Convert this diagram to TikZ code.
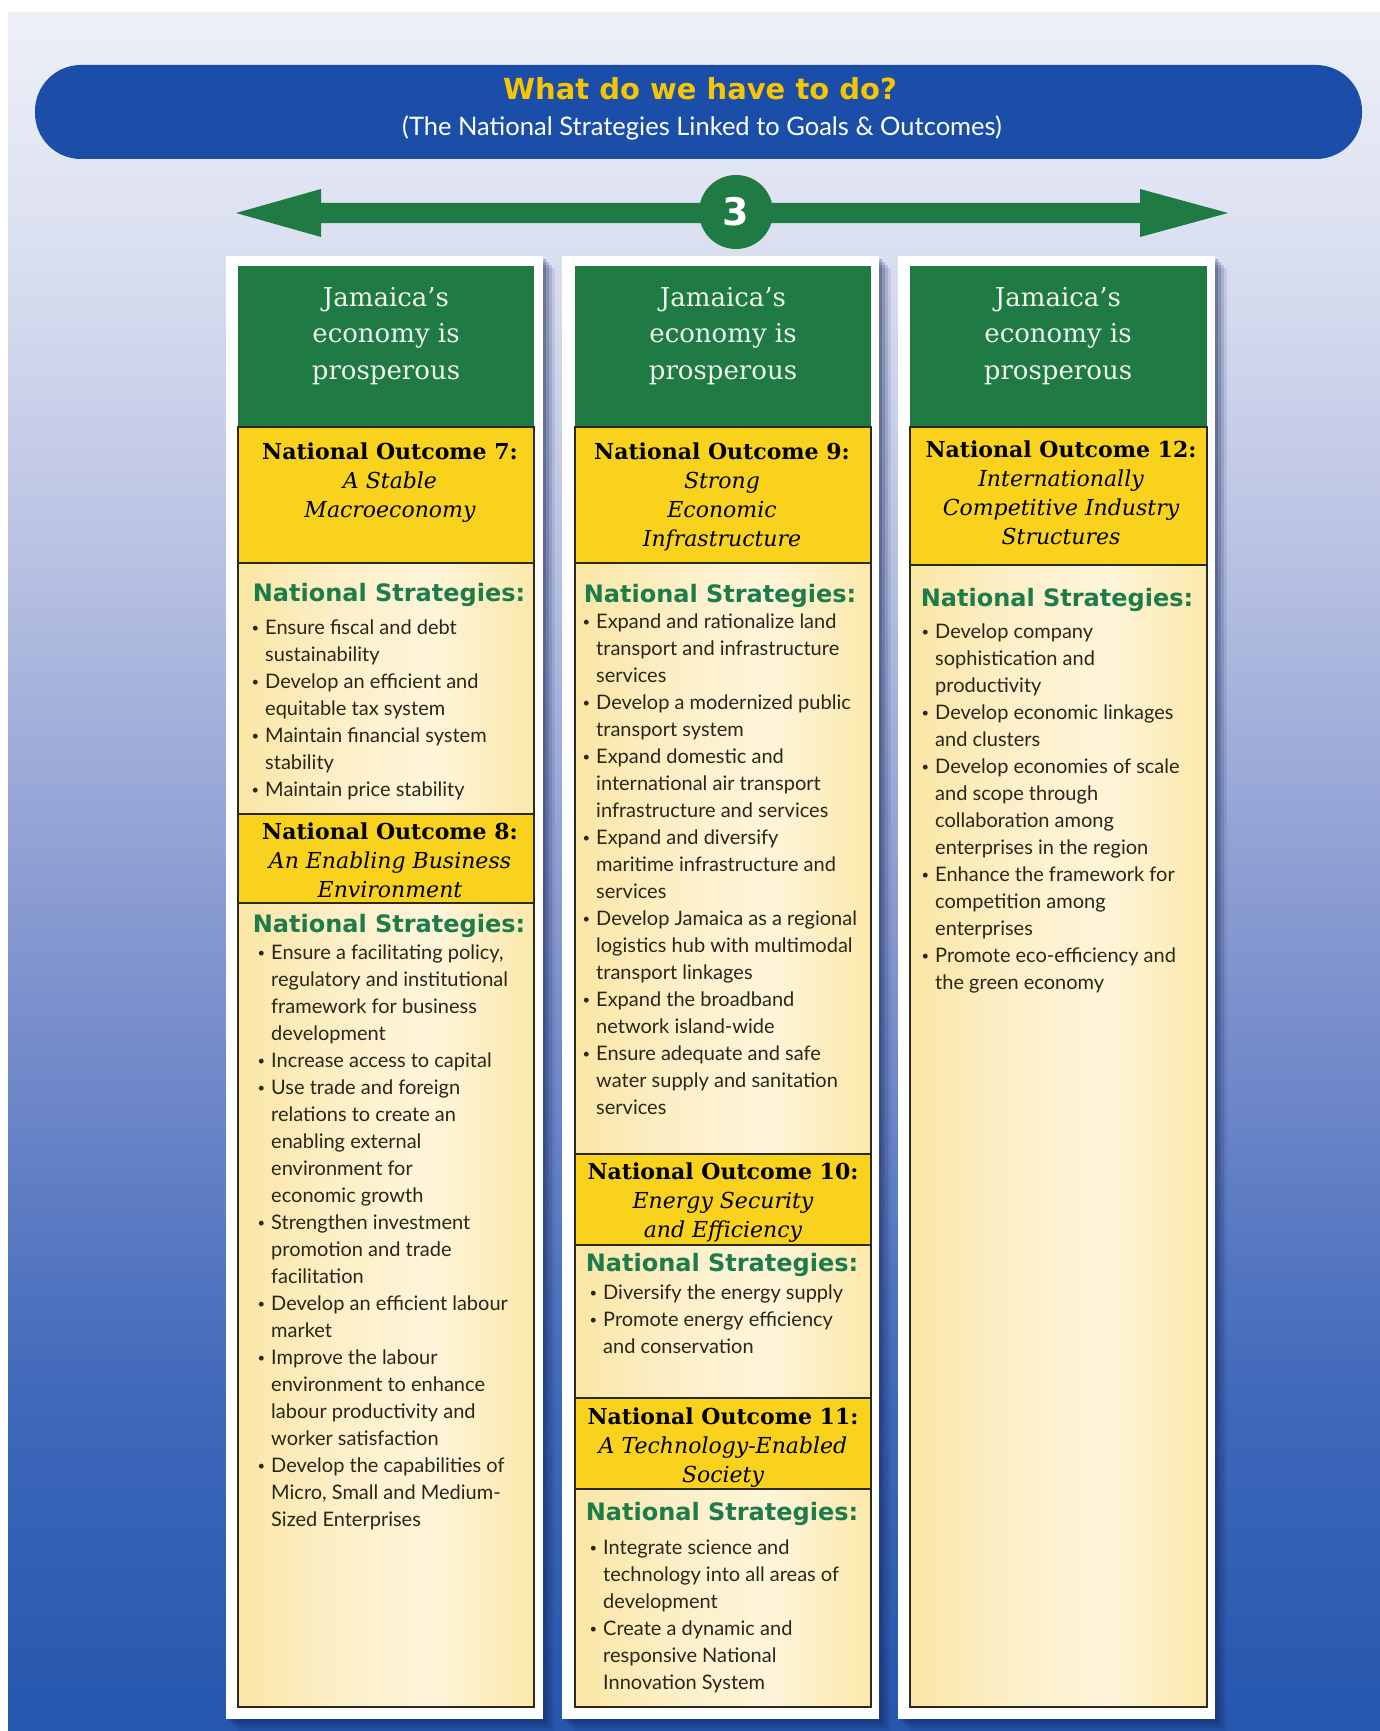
\documentclass[tikz,border=0pt]{standalone}
\usepackage{fontspec}
\setmainfont{Lato}
\newfontfamily\serifF{DejaVu Serif}
\newfontfamily\heavyF{DejaVu Sans}
\definecolor{bgz}{HTML}{2457AE}
\definecolor{bgy}{HTML}{3F68BA}
\definecolor{bgx}{HTML}{7A8FCC}
\definecolor{bgw}{HTML}{B3BDE0}
\definecolor{bgv}{HTML}{DADFF0}
\definecolor{bgu}{HTML}{EEF0F8}
\definecolor{bannerblue}{HTML}{1B4EA8}
\definecolor{titleyellow}{HTML}{F7C600}
\definecolor{jgreen}{HTML}{1F7A44}
\definecolor{hgreen}{HTML}{1C7C4A}
\definecolor{oyellow}{HTML}{F8D21C}
\definecolor{pL}{HTML}{FAE6A4}
\definecolor{pM}{HTML}{FCEFC8}
\definecolor{pC}{HTML}{FEF5DA}
\definecolor{pR}{HTML}{FBE8AA}
\definecolor{bodytext}{HTML}{2A2619}
\definecolor{edge}{HTML}{2A2A20}
\definecolor{shadowc}{HTML}{14245A}
\definecolor{goalwhite}{HTML}{EEF2EE}
\pgfdeclareverticalshading{bgshade}{100bp}{color(0bp)=(bgz); color(25bp)=(bgz); color(34.5bp)=(bgy); color(46bp)=(bgx); color(58bp)=(bgw); color(68bp)=(bgv); color(75bp)=(bgu); color(100bp)=(bgu)}
\pgfdeclarehorizontalshading{panelshade}{100bp}{color(0bp)=(pL); color(25bp)=(pL); color(42bp)=(pM); color(58bp)=(pC); color(75bp)=(pR); color(100bp)=(pR)}
\newcommand{\bl}{\leavevmode\llap{\raisebox{1.5pt}{\fontsize{13}{13}\selectfont•}\hspace{6pt}}}
\tikzset{
  greenbox/.style={fill=jgreen},
  outbox/.style={fill=oyellow},
  panel/.style={shading=panelshade},
  edgeline/.style={draw=edge, line width=1.8pt},
  framebox/.style={fill=white},
  shadowbox/.style={fill=shadowc},
  goaltext/.style={inner sep=0, anchor=base, text=goalwhite, font=\serifF\fontsize{26}{36.5}\selectfont},
  outtext/.style={inner sep=0, anchor=base, text=black, font=\serifF\fontsize{22}{29}\selectfont},
  nshead/.style={inner sep=0, anchor=base, text=hgreen, font=\heavyF\bfseries\fontsize{24}{28}\selectfont},
  bullets/.style={inner sep=0, anchor=base west, text=bodytext, font=\fontsize{20}{27}\selectfont},
}
\begin{document}
\begin{tikzpicture}[x=1pt,y=-1pt]
\useasboundingbox (0,0) rectangle (1380,1731);
\fill[white] (0,0) rectangle (1380,1731);
\shade[shading=bgshade] (8,13) rectangle (1380,1731);
% banner
\fill[bannerblue, rounded corners=46pt] (35,65) rectangle (1362,159);
\node[inner sep=0, anchor=base, text=titleyellow, font=\heavyF\bfseries\fontsize{29}{32}\selectfont] (title) at (700,100) {What do we have to do?};
\node[inner sep=0, anchor=base, text=white, font=\fontsize{25.5}{28}\selectfont] (subtitle) at (702,136) {(The National Strategies Linked to Goals \& Outcomes)};
% arrow
\fill[jgreen] (236,213) -- (321,189) -- (321,203) -- (1140,203) -- (1140,189) -- (1228,213) -- (1140,237) -- (1140,223) -- (321,223) -- (321,237) -- cycle;
\node[circle, fill=jgreen, minimum size=74pt, inner sep=0, text=white, font=\heavyF\bfseries\fontsize{38}{40}\selectfont] (num) at (736,212) {3};
% shadows
\foreach \d/\o in {3/0.25,6/0.2,9/0.15,12/0.1}{
  \fill[shadowbox, opacity=\o] (226+\d,256+\d) rectangle (543+\d,1719+\d);
  \fill[shadowbox, opacity=\o] (562+\d,256+\d) rectangle (879+\d,1719+\d);
  \fill[shadowbox, opacity=\o] (898+\d,256+\d) rectangle (1215+\d,1719+\d);
}
% column 1
\fill[framebox] (226,256) rectangle (543,1719);
\fill[greenbox] (238,266) rectangle (534,427);
\fill[outbox] (238,427) rectangle (534,563);
\shade[panel] (238,563) rectangle (534,814);
\fill[outbox] (238,814) rectangle (534,903);
\shade[panel] (238,903) rectangle (534,1707);
\draw[edgeline] (238,427) rectangle (534,1707);
\draw[edgeline] (238,563) -- (534,563) (238,814) -- (534,814) (238,903) -- (534,903);
% column 2
\fill[framebox] (562,256) rectangle (879,1719);
\fill[greenbox] (575,266) rectangle (871,427);
\fill[outbox] (575,427) rectangle (871,563);
\shade[panel] (575,563) rectangle (871,1154);
\fill[outbox] (575,1154) rectangle (871,1245);
\shade[panel] (575,1245) rectangle (871,1398);
\fill[outbox] (575,1398) rectangle (871,1489);
\shade[panel] (575,1489) rectangle (871,1707);
\draw[edgeline] (575,427) rectangle (871,1707);
\draw[edgeline] (575,563) -- (871,563) (575,1154) -- (871,1154) (575,1245) -- (871,1245) (575,1398) -- (871,1398) (575,1489) -- (871,1489);
% column 3
\fill[framebox] (898,256) rectangle (1215,1719);
\fill[greenbox] (910,266) rectangle (1207,427);
\fill[outbox] (910,427) rectangle (1207,565);
\shade[panel] (910,565) rectangle (1207,1707);
\draw[edgeline] (910,427) rectangle (1207,1707);
\draw[edgeline] (910,565) -- (1207,565);
% goal texts
\node[goaltext] (g1) at (386,306) {\parbox[t]{280pt}{\centering Jamaica’s\\economy is\\prosperous}};
\node[goaltext] (g2) at (723,306) {\parbox[t]{280pt}{\centering Jamaica’s\\economy is\\prosperous}};
\node[goaltext] (g3) at (1058,306) {\parbox[t]{280pt}{\centering Jamaica’s\\economy is\\prosperous}};
% outcomes
\node[outtext] (o7) at (390,459) {\parbox[t]{290pt}{\centering\textbf{National Outcome 7:}\\{\itshape A Stable\\Macroeconomy}}};
\node[outtext] (o8) at (390,839) {\parbox[t]{290pt}{\centering\textbf{National Outcome 8:}\\{\itshape An Enabling Business\\Environment}}};
\node[outtext] (o9) at (722,459) {\parbox[t]{290pt}{\centering\textbf{National Outcome 9:}\\{\itshape Strong\\Economic\\Infrastructure}}};
\node[outtext] (o10) at (723,1179) {\parbox[t]{290pt}{\centering\textbf{National Outcome 10:}\\{\itshape Energy Security\\and Efficiency}}};
\node[outtext] (o11) at (723,1424) {\parbox[t]{290pt}{\centering\textbf{National Outcome 11:}\\{\itshape A Technology-Enabled\\Society}}};
\node[outtext] (o12) at (1061,457) {\parbox[t]{290pt}{\centering\textbf{National Outcome 12:}\\{\itshape Internationally\\Competitive Industry\\Structures}}};
% strategy headers
\node[nshead] (h7) at (389,601) {National Strategies:};
\node[nshead] (h8) at (389,932) {National Strategies:};
\node[nshead] (h9) at (720,602) {National Strategies:};
\node[nshead] (h10) at (722,1271) {National Strategies:};
\node[nshead] (h11) at (722,1520) {National Strategies:};
\node[nshead] (h12) at (1057,606) {National Strategies:};
% strategy lists
\node[bullets] (s7) at (265,634) {\parbox[t]{265pt}{\raggedright
\bl Ensure fiscal and debt\\sustainability\\
\bl Develop an efficient and\\equitable tax system\\
\bl Maintain financial system\\stability\\
\bl Maintain price stability}};
\node[bullets] (s8) at (271,959) {\parbox[t]{262pt}{\raggedright
\bl Ensure a facilitating policy,\\regulatory and institutional\\framework for business\\development\\
\bl Increase access to capital\\
\bl Use trade and foreign\\relations to create an\\enabling external\\environment for\\economic growth\\
\bl Strengthen investment\\promotion and trade\\facilitation\\
\bl Develop an efficient labour\\market\\
\bl Improve the labour\\environment to enhance\\labour productivity and\\worker satisfaction\\
\bl Develop the capabilities of\\Micro, Small and Medium-\\Sized Enterprises}};
\node[bullets] (s9) at (596,628) {\parbox[t]{275pt}{\raggedright
\bl Expand and rationalize land\\transport and infrastructure\\services\\
\bl Develop a modernized public\\transport system\\
\bl Expand domestic and\\international air transport\\infrastructure and services\\
\bl Expand and diversify\\maritime infrastructure and\\services\\
\bl Develop Jamaica as a regional\\logistics hub with multimodal\\transport linkages\\
\bl Expand the broadband\\network island-wide\\
\bl Ensure adequate and safe\\water supply and sanitation\\services}};
\node[bullets] (s10) at (603,1299) {\parbox[t]{268pt}{\raggedright
\bl Diversify the energy supply\\
\bl Promote energy efficiency\\and conservation}};
\node[bullets] (s11) at (603,1554) {\parbox[t]{268pt}{\raggedright
\bl Integrate science and\\technology into all areas of\\development\\
\bl Create a dynamic and\\responsive National\\Innovation System}};
\node[bullets] (s12) at (935,638) {\parbox[t]{272pt}{\raggedright
\bl Develop company\\sophistication and\\productivity\\
\bl Develop economic linkages\\and clusters\\
\bl Develop economies of scale\\and scope through\\collaboration among\\enterprises in the region\\
\bl Enhance the framework for\\competition among\\enterprises\\
\bl Promote eco-efficiency and\\the green economy}};
\end{tikzpicture}
\end{document}
